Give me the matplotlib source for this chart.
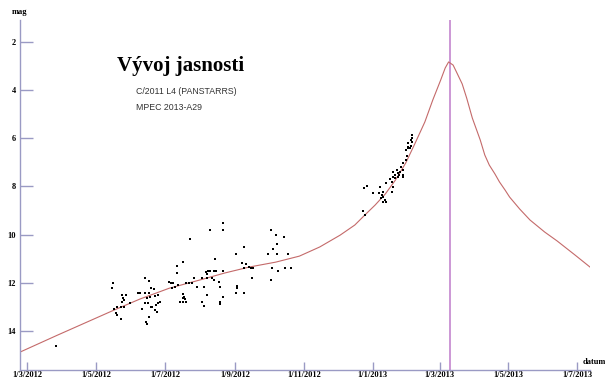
import datetime as dt

import matplotlib
matplotlib.use("Agg")
import matplotlib.pyplot as plt
import matplotlib.dates as mdates
from matplotlib.ticker import FuncFormatter

# observed magnitudes (date, mag)
obs_dates = [
    "2012-03-27",
    # May 2012
    "2012-05-16", "2012-05-15", "2012-05-24", "2012-05-28", "2012-05-25", "2012-05-24",
    "2012-05-26", "2012-05-31", "2012-05-20", "2012-05-23", "2012-05-17", "2012-05-19",
    "2012-05-20", "2012-05-23", "2012-05-26",
    # June 2012
    "2012-06-13", "2012-06-17", "2012-06-07", "2012-06-09", "2012-06-13", "2012-06-17",
    "2012-06-19", "2012-06-21", "2012-06-15", "2012-06-18", "2012-06-22", "2012-06-25",
    "2012-06-13", "2012-06-16", "2012-06-11", "2012-06-19", "2012-06-20", "2012-06-23",
    "2012-06-25", "2012-06-27", "2012-06-22", "2012-06-24", "2012-06-17", "2012-06-14",
    "2012-06-15",
    # July 2012
    "2012-07-06", "2012-07-08", "2012-07-07", "2012-07-05", "2012-07-10", "2012-07-13",
    "2012-07-12", "2012-07-12", "2012-07-17", "2012-07-20", "2012-07-22", "2012-07-25",
    "2012-07-17", "2012-07-18", "2012-07-17", "2012-07-19", "2012-07-14", "2012-07-17",
    "2012-07-20", "2012-07-23", "2012-07-27", "2012-07-29",
    # August 2012
    "2012-08-10", "2012-08-21", "2012-08-21", "2012-08-14", "2012-08-06", "2012-08-08",
    "2012-08-10", "2012-08-13", "2012-08-15", "2012-08-21", "2012-08-07", "2012-08-03",
    "2012-08-07", "2012-08-12", "2012-08-13", "2012-08-18", "2012-08-05", "2012-08-19",
    "2012-08-07", "2012-08-03", "2012-08-05", "2012-08-21", "2012-08-19", "2012-08-19",
    # September 2012
    "2012-09-02", "2012-09-09", "2012-09-07", "2012-09-11", "2012-09-13", "2012-09-09",
    "2012-09-15", "2012-09-17", "2012-09-16", "2012-09-03", "2012-09-03", "2012-09-02",
    "2012-09-09",
    # October 2012
    "2012-10-03", "2012-10-07", "2012-10-14", "2012-10-08", "2012-09-30", "2012-10-05",
    "2012-10-08", "2012-10-18", "2012-10-04", "2012-10-09", "2012-10-15", "2012-10-21",
    "2012-10-03",
    # December 2012 - February 2013
    "2012-12-23", "2012-12-25", "2012-12-24", "2012-12-27", "2013-01-01", "2013-01-07",
    "2013-01-06", "2013-01-09", "2013-01-10", "2013-01-08", "2013-01-12", "2013-01-13",
    "2013-01-10", "2013-01-10", "2013-01-13", "2013-01-16", "2013-01-18", "2013-01-18",
    "2013-01-19", "2013-01-19", "2013-01-19", "2013-01-21", "2013-01-21", "2013-01-23",
    "2013-01-23", "2013-01-25", "2013-01-22", "2013-01-24", "2013-01-28", "2013-01-28",
    "2013-01-26", "2013-01-28", "2013-01-28", "2013-01-30", "2013-01-31", "2013-01-30",
    "2013-02-01", "2013-02-01", "2013-02-03", "2013-02-04", "2013-02-01", "2013-02-05",
    "2013-02-05", "2013-02-05", "2013-02-04",
]
obs_mags = [
    14.62,
    12.01, 12.22, 12.51, 12.51, 12.63, 12.80,
    12.71, 12.84, 13.01, 13.01, 13.09, 13.25,
    13.34, 13.50, 13.01,
    11.80, 11.93, 12.42, 12.42, 12.42, 12.42,
    12.22, 12.26, 12.63, 12.59, 12.55, 12.51,
    12.84, 12.84, 13.09, 13.01, 13.01, 12.92,
    12.84, 12.80, 13.13, 13.21, 13.42, 13.63,
    13.71,
    12.01, 12.01, 12.22, 11.97, 12.17, 12.09,
    11.30, 11.59, 11.14, 12.01, 12.01, 12.01,
    12.47, 12.59, 12.63, 12.67, 12.80, 12.80,
    12.80, 10.18, 11.80, 12.17,
    9.81, 9.52, 9.81, 11.01, 11.55, 11.51,
    11.51, 11.51, 11.51, 11.51, 11.63, 11.80,
    11.80, 11.80, 11.88, 11.97, 12.17, 12.17,
    12.51, 12.80, 12.96, 12.59, 12.80, 12.88,
    10.80, 10.51, 11.18, 11.22, 11.34, 11.39,
    11.39, 11.39, 11.80, 12.13, 12.22, 12.42,
    12.42,
    9.81, 10.01, 10.10, 10.39, 10.80, 10.60,
    10.80, 10.80, 11.39, 11.51, 11.39, 11.39,
    11.88,
    9.02, 9.18, 8.06, 7.98, 8.27, 8.02,
    8.27, 8.35, 8.44, 8.48, 8.56, 8.64,
    8.64, 8.23, 7.86, 7.69, 7.81, 8.23,
    8.02, 7.61, 7.40, 7.65, 7.52, 7.44,
    7.61, 7.40, 7.32, 7.52, 7.32, 7.61,
    7.19, 7.52, 7.03, 6.90, 6.73, 6.49,
    6.40, 6.36, 6.40, 6.32, 6.19, 5.86,
    5.99, 6.15, 6.07,
]

# predicted light curve (MPEC 2013-A29)
curve_dates = [
    "2012-02-24", "2012-03-27", "2012-05-17", "2012-06-09", "2012-07-05", "2012-08-01",
    "2012-08-23", "2012-09-14", "2012-10-07", "2012-10-28", "2012-11-15", "2012-12-03",
    "2012-12-16", "2012-12-25", "2013-01-03", "2013-01-12", "2013-01-21", "2013-01-30",
    "2013-02-07", "2013-02-16", "2013-02-23", "2013-03-02", "2013-03-06", "2013-03-09",
    "2013-03-13", "2013-03-16", "2013-03-21", "2013-03-25", "2013-03-30", "2013-04-06",
    "2013-04-10", "2013-04-14", "2013-04-19", "2013-04-23", "2013-04-28", "2013-05-02",
    "2013-05-11", "2013-05-20", "2013-06-02", "2013-06-13", "2013-06-29", "2013-07-12",
]
curve_mags = [
    14.87, 14.19, 13.13, 12.67, 12.22, 11.88,
    11.59, 11.34, 11.14, 10.89, 10.51, 10.02,
    9.60, 9.18, 8.77, 8.31, 7.73, 7.03,
    6.24, 5.32, 4.41, 3.58, 3.08, 2.83,
    2.96, 3.25, 3.74, 4.33, 5.16, 6.07,
    6.69, 7.11, 7.48, 7.81, 8.15, 8.44,
    8.94, 9.39, 9.89, 10.26, 10.85, 11.34,
]

perihelion = "2013-03-10 12:00"
mag_ticks = [2, 4, 6, 8, 10, 12, 14]


def to_dt(s):
    if " " in s:
        return dt.datetime.strptime(s, "%Y-%m-%d %H:%M")
    return dt.datetime.strptime(s, "%Y-%m-%d")


axis_col = "#9a9ac4"

fig = plt.figure(figsize=(6.05, 3.78), dpi=100)
ax = fig.add_axes([0.033, 0.021, 0.942, 0.926])

ax.plot([to_dt(s) for s in curve_dates], curve_mags, color="#c46a6a", lw=0.8, zorder=2)
ax.axvline(to_dt(perihelion), color="#c88fd2", lw=1.3, zorder=1)
ax.scatter([to_dt(s) for s in obs_dates], obs_mags, s=4, marker="s", color="black",
           linewidths=0, zorder=3)

ax.set_xlim(dt.datetime(2012, 2, 23, 18), dt.datetime(2013, 7, 12))
ax.set_ylim(15.62, 1.09)

for side in ("top", "right"):
    ax.spines[side].set_visible(False)
for side in ("left", "bottom"):
    ax.spines[side].set_color(axis_col)
    ax.spines[side].set_linewidth(1.0)

ax.set_yticks(mag_ticks)
ax.yaxis.set_major_formatter(FuncFormatter(lambda v, p: f"{int(v)}"))
ax.xaxis.set_major_locator(mdates.MonthLocator(bymonth=[1, 3, 5, 7, 9, 11]))
ax.xaxis.set_major_formatter(FuncFormatter(
    lambda v, p: "{0.day}/{0.month}/{0.year}".format(mdates.num2date(v))))

tick_font = {"family": "Liberation Serif", "weight": "bold", "size": 6}
ax.tick_params(axis="y", direction="in", length=9, width=1, color=axis_col, pad=3)
ax.tick_params(axis="x", direction="in", length=6, width=1, color=axis_col, pad=1)
for lab in ax.get_xticklabels() + ax.get_yticklabels():
    lab.set_fontfamily(tick_font["family"])
    lab.set_fontweight(tick_font["weight"])
    lab.set_fontsize(tick_font["size"])

fig.text(12 / 605, 1 - 12 / 378, "mag", fontdict=tick_font, va="center", ha="left")
fig.text(583 / 605, 1 - 362 / 378, "datum", fontdict=tick_font, va="center", ha="left")

fig.text(117 / 605, 1 - 66 / 378, "Vývoj jasnosti", family="Liberation Serif",
         weight="bold", size=15, va="center", ha="left")
fig.text(136 / 605, 1 - 91 / 378, "C/2011 L4 (PANSTARRS)", family="Liberation Sans",
         size=6.3, color="#333333", va="center", ha="left")
fig.text(136 / 605, 1 - 107 / 378, "MPEC 2013-A29", family="Liberation Sans",
         size=6.3, color="#333333", va="center", ha="left")

fig.savefig("out.png", dpi=100)
